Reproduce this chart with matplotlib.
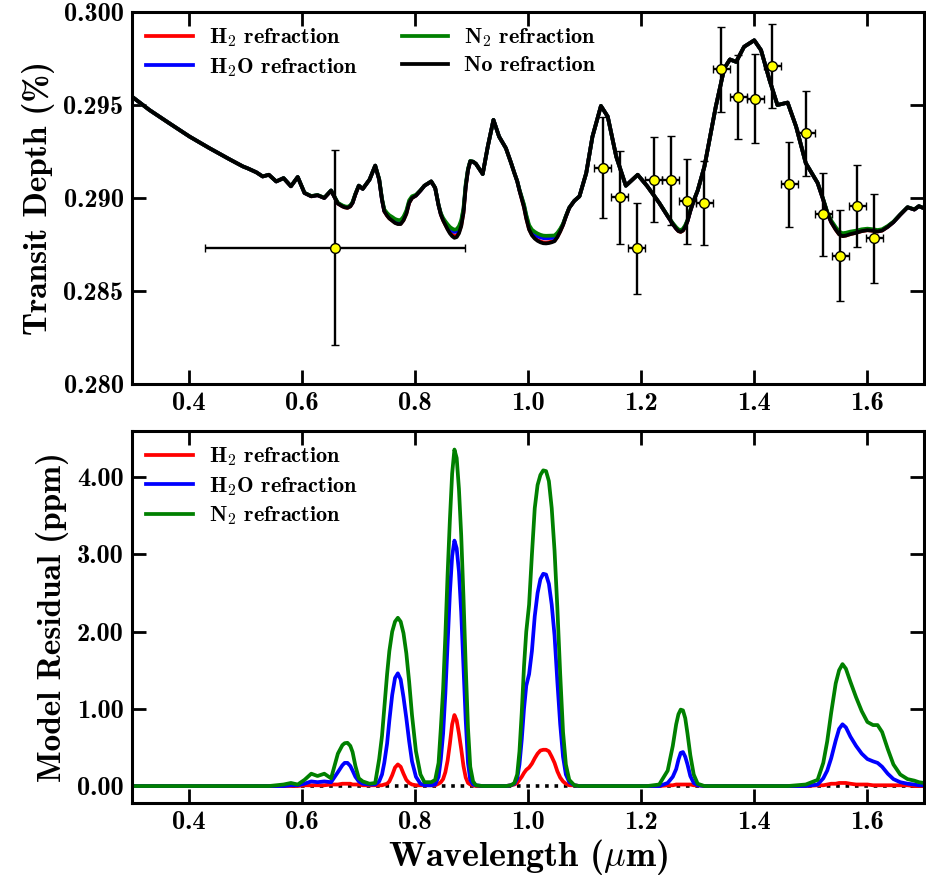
import numpy as np
import matplotlib.pyplot as plt

plt.rcParams['font.family'] = 'cmb10'
plt.rcParams['mathtext.fontset'] = 'cm'
plt.rcParams['axes.unicode_minus'] = False

# model grid (micron); one line per spectral region
wavelength = [
    0.300, 0.331, 0.366, 0.402, 0.437, 0.472, 0.496, 0.505, 0.520, 0.531, 0.542, 0.555, 0.568, 0.581, 0.593, 0.605, 0.617, 0.628, 0.640, 0.652,
    0.664, 0.672, 0.676, 0.681, 0.686, 0.690, 0.695, 0.701, 0.708, 0.720, 0.730,
    0.737, 0.742, 0.746, 0.751, 0.755, 0.760, 0.765, 0.770, 0.775, 0.780, 0.785, 0.790, 0.795, 0.802, 0.810, 0.817, 0.829,
    0.836, 0.842, 0.846, 0.850, 0.854, 0.858, 0.862, 0.866, 0.870, 0.874, 0.878, 0.882, 0.886, 0.890, 0.894, 0.898, 0.903, 0.908,
    0.920, 0.929, 0.939, 0.949,
    0.961, 0.970, 0.976, 0.981, 0.985, 0.989, 0.993, 0.997, 1.002, 1.007, 1.012, 1.017, 1.022, 1.027, 1.032, 1.037, 1.042, 1.047, 1.052, 1.057, 1.062, 1.067, 1.073, 1.082, 1.091,
    1.103, 1.114, 1.129, 1.141, 1.156, 1.173, 1.194, 1.211,
    1.232, 1.247, 1.256, 1.262, 1.266, 1.270, 1.274, 1.278, 1.282, 1.287, 1.293, 1.300,
    1.312, 1.332, 1.347, 1.357, 1.368, 1.382, 1.400, 1.412, 1.427, 1.441, 1.459, 1.474,
    1.491, 1.512, 1.522, 1.529, 1.536, 1.544, 1.550, 1.556, 1.562, 1.570, 1.580, 1.590, 1.600, 1.610, 1.618, 1.626, 1.636, 1.646, 1.658, 1.671, 1.683, 1.691, 1.700,
]

# transit depth of the model without refraction (%)
depth_none = [
    0.29545, 0.29473, 0.29402, 0.29330, 0.29268, 0.29209, 0.29170, 0.29159, 0.29138, 0.29116, 0.29125, 0.29089, 0.29107, 0.29063, 0.29113, 0.29027, 0.29009, 0.29015, 0.29000, 0.29040,
    0.28970, 0.28955, 0.28950, 0.28947, 0.28955, 0.28974, 0.29020, 0.29066, 0.29049, 0.29099, 0.29174,
    0.29099, 0.28990, 0.28929, 0.28905, 0.28890, 0.28878, 0.28866, 0.28860, 0.28860, 0.28880, 0.28915, 0.28974, 0.29000, 0.29013, 0.29040, 0.29066, 0.29089,
    0.29054, 0.28960, 0.28911, 0.28880, 0.28855, 0.28831, 0.28810, 0.28795, 0.28786, 0.28790, 0.28810, 0.28848, 0.28920, 0.29060, 0.29150, 0.29197, 0.29195, 0.29184,
    0.29129, 0.29277, 0.29420, 0.29330,
    0.29268, 0.29190, 0.29134, 0.29090, 0.29040, 0.28995, 0.28950, 0.28890, 0.28831, 0.28800, 0.28782, 0.28770, 0.28762, 0.28757, 0.28756, 0.28758, 0.28762, 0.28768, 0.28790, 0.28820, 0.28855, 0.28900, 0.28947, 0.28985, 0.29009,
    0.29134, 0.29330, 0.29495, 0.29438, 0.29223, 0.29066, 0.29125, 0.29063,
    0.28974, 0.28902, 0.28860, 0.28835, 0.28822, 0.28818, 0.28825, 0.28845, 0.28875, 0.28930, 0.28985, 0.29040,
    0.29170, 0.29491, 0.29697, 0.29745, 0.29732, 0.29813, 0.29848, 0.29795, 0.29634, 0.29500, 0.29513, 0.29384,
    0.29188, 0.29081, 0.28990, 0.28920, 0.28870, 0.28830, 0.28805, 0.28795, 0.28798, 0.28806, 0.28813, 0.28822, 0.28827, 0.28824, 0.28820, 0.28825, 0.28845, 0.28870, 0.28910, 0.28950, 0.28938, 0.28956, 0.28945,
]

# residual (ppm) of each refraction model against the no-refraction model
resid_h2 = [
    0, 0, 0, 0, 0, 0, 0, 0, 0, 0, 0, 0, 0, 0, 0, 0.01, 0.01, 0.01, 0.01, 0.02,
    0.02, 0.03, 0.03, 0.03, 0.03, 0.02, 0.02, 0.02, 0.01, 0.01, 0.01,
    0.01, 0.01, 0.02, 0.03, 0.06, 0.14, 0.24, 0.28, 0.25, 0.16, 0.08, 0.04, 0.02, 0.01, 0.01, 0.01, 0.01,
    0.01, 0.03, 0.05, 0.09, 0.18, 0.33, 0.55, 0.80, 0.92, 0.85, 0.68, 0.48, 0.26, 0.11, 0.04, 0.02, 0.01, 0,
    0, 0, 0, 0,
    0, 0.01, 0.02, 0.04, 0.08, 0.12, 0.17, 0.21, 0.24, 0.29, 0.36, 0.42, 0.46, 0.47, 0.47, 0.45, 0.38, 0.30, 0.19, 0.11, 0.06, 0.03, 0.01, 0.01, 0,
    0, 0, 0, 0, 0, 0, 0, 0,
    0, 0.01, 0.01, 0.02, 0.02, 0.02, 0.02, 0.02, 0.02, 0.02, 0.01, 0.01,
    0, 0, 0, 0, 0, 0, 0, 0, 0, 0, 0, 0,
    0, 0.01, 0.01, 0.02, 0.03, 0.03, 0.04, 0.04, 0.04, 0.03, 0.02, 0.02, 0.02, 0.01, 0.01, 0.01, 0.01, 0.01, 0.01, 0.01, 0, 0, 0,
]
resid_h2o = [
    0, 0, 0, 0, 0, 0, 0, 0, 0, 0, 0, 0, 0, 0.01, 0.01, 0.03, 0.06, 0.05, 0.06, 0.05,
    0.18, 0.27, 0.30, 0.30, 0.26, 0.20, 0.12, 0.06, 0.03, 0.02, 0.02,
    0.06, 0.15, 0.30, 0.55, 0.85, 1.18, 1.40, 1.46, 1.38, 1.15, 0.88, 0.58, 0.32, 0.12, 0.03, 0.01, 0.01,
    0.02, 0.12, 0.35, 0.68, 1.20, 1.85, 2.50, 2.98, 3.18, 3.08, 2.78, 2.25, 1.55, 0.85, 0.30, 0.08, 0.02, 0.01,
    0, 0, 0, 0,
    0, 0.01, 0.03, 0.10, 0.28, 0.60, 1.00, 1.30, 1.45, 1.75, 2.20, 2.50, 2.68, 2.75, 2.74, 2.62, 2.35, 1.95, 1.35, 0.80, 0.38, 0.15, 0.05, 0.01, 0,
    0, 0, 0, 0, 0, 0, 0, 0,
    0, 0.04, 0.12, 0.22, 0.34, 0.43, 0.44, 0.38, 0.28, 0.13, 0.04, 0.01,
    0, 0, 0, 0, 0, 0, 0, 0, 0, 0, 0, 0,
    0, 0.02, 0.10, 0.20, 0.36, 0.59, 0.74, 0.80, 0.76, 0.64, 0.52, 0.42, 0.35, 0.32, 0.30, 0.25, 0.16, 0.09, 0.05, 0.03, 0.02, 0.01, 0.01,
]
resid_n2 = [
    0, 0, 0, 0, 0, 0, 0, 0, 0, 0, 0, 0.01, 0.02, 0.04, 0.02, 0.08, 0.16, 0.13, 0.16, 0.10,
    0.42, 0.53, 0.555, 0.56, 0.52, 0.44, 0.26, 0.10, 0.06, 0.03, 0.04,
    0.35, 0.65, 1.00, 1.45, 1.75, 2.00, 2.13, 2.18, 2.13, 1.98, 1.72, 1.35, 0.92, 0.45, 0.15, 0.05, 0.05,
    0.08, 0.30, 0.75, 1.25, 1.95, 2.75, 3.45, 4.05, 4.36, 4.25, 3.85, 3.25, 2.45, 1.55, 0.75, 0.25, 0.06, 0.01,
    0, 0, 0, 0,
    0, 0.01, 0.04, 0.15, 0.45, 0.95, 1.55, 2.00, 2.35, 3.00, 3.60, 3.90, 4.03, 4.09, 4.08, 3.95, 3.60, 3.05, 2.30, 1.45, 0.70, 0.28, 0.08, 0.01, 0,
    0, 0, 0, 0, 0, 0, 0, 0,
    0.02, 0.20, 0.52, 0.80, 0.93, 0.99, 0.98, 0.88, 0.68, 0.40, 0.15, 0.03,
    0, 0, 0, 0, 0, 0, 0, 0, 0, 0, 0, 0.01,
    0.02, 0.08, 0.30, 0.58, 0.95, 1.33, 1.50, 1.58, 1.52, 1.35, 1.15, 0.97, 0.83, 0.79, 0.79, 0.70, 0.48, 0.28, 0.15, 0.09, 0.07, 0.05, 0.04,
]

# observed spectrum: broadband point + binned spectroscopic points
obs_wl = [0.659, 1.132, 1.162, 1.192, 1.222, 1.252, 1.282, 1.312, 1.342, 1.372,
          1.402, 1.432, 1.462, 1.492, 1.522, 1.552, 1.582, 1.612]
obs_wl_err = [0.23] + [0.015] * 17
obs_depth = [0.28732, 0.29164, 0.29004, 0.28729, 0.29099, 0.29095, 0.28982, 0.28972,
             0.29691, 0.29545, 0.29534, 0.29709, 0.29073, 0.29349, 0.28913, 0.28690,
             0.28959, 0.28784]
obs_depth_err = [0.00524, 0.00272, 0.00251, 0.00245, 0.00229, 0.00238, 0.00227, 0.00226,
                 0.00229, 0.00226, 0.00238, 0.00225, 0.00227, 0.00229, 0.00224, 0.00246,
                 0.00220, 0.00240]

wl = np.array(wavelength)
base = np.array(depth_none)
models = [
    ('H$_\\mathbf{2}$ refraction', 'red', np.array(resid_h2)),
    ('H$_\\mathbf{2}$O refraction', 'blue', np.array(resid_h2o)),
    ('N$_\\mathbf{2}$ refraction', 'green', np.array(resid_n2)),
]

fig = plt.figure(figsize=(9.26, 8.76), dpi=100)
ax1 = fig.add_axes([0.1425, 0.5616, 0.8553, 0.4247])
ax2 = fig.add_axes([0.1425, 0.0833, 0.8553, 0.4247])

lw = 2.7
leg_kw = dict(frameon=False, fontsize=16, handlelength=2.1, handletextpad=0.7,
              borderaxespad=0.25, labelspacing=0.3)

# top: transit spectra (ppm residual -> % depth is a factor 1e-4)
for name, col, res in models:
    ax1.plot(wl, base + res * 1e-4, color=col, lw=lw, label=name, solid_joinstyle='round')
ax1.plot(wl, base, color='black', lw=lw, label='No refraction', solid_joinstyle='round')

ax1.errorbar(obs_wl, obs_depth, xerr=obs_wl_err, yerr=obs_depth_err, fmt='o',
             color='black', mfc='yellow', mec='black', ms=7, mew=1.0,
             elinewidth=1.7, capsize=3, capthick=1.7, zorder=5)

ax1.set_xlim(0.3, 1.7)
ax1.set_ylim(0.280, 0.300)
ax1.set_yticks([0.280, 0.285, 0.290, 0.295, 0.300])
ax1.set_yticklabels(['0.280', '0.285', '0.290', '0.295', '0.300'])
ax1.set_ylabel('Transit Depth (%)', fontsize=24, labelpad=6)
ax1.legend(loc='upper left', ncol=2, columnspacing=2.0, **leg_kw)

# bottom: residuals
ax2.plot([0.3, 1.7], [0, 0], color='black', lw=2.6, ls=(0, (1, 1.6)))
for name, col, res in models:
    ax2.plot(wl, res, color=col, lw=lw, label=name, solid_joinstyle='round')
ax2.set_xlim(0.3, 1.7)
ax2.set_ylim(-0.22, 4.6)
ax2.set_yticks([0, 1, 2, 3, 4])
ax2.set_yticklabels(['0.00', '1.00', '2.00', '3.00', '4.00'])
ax2.set_ylabel('Model Residual (ppm)', fontsize=24, labelpad=6)
ax2.set_xlabel('Wavelength ($\\mu$m)', fontsize=26, labelpad=2)
ax2.legend(loc='upper left', **leg_kw)

xticks = [0.4, 0.6, 0.8, 1.0, 1.2, 1.4, 1.6]
for ax in (ax1, ax2):
    ax.set_xticks(xticks)
    ax.set_xticklabels(['%.1f' % t for t in xticks])
    ax.tick_params(direction='in', length=10, width=2, labelsize=19,
                   top=True, right=True, pad=6)
    for s in ax.spines.values():
        s.set_linewidth(2.2)

fig.savefig('out.png', dpi=100)
